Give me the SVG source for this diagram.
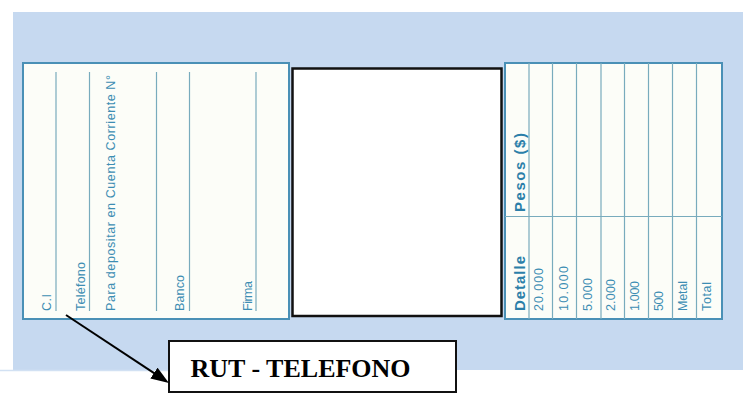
<svg xmlns="http://www.w3.org/2000/svg" width="743" height="408" viewBox="0 0 743 408">
  <defs>
    <marker id="arrowhead" viewBox="0 0 18 13" refX="2" refY="6.5" markerWidth="18" markerHeight="13" markerUnits="userSpaceOnUse" orient="auto">
      <path d="M0,0 L18,6.5 L0,13 z" fill="#000"/>
    </marker>
    <style>
      .panel { fill: #fcfdf8; stroke: #4a90b6; stroke-width: 2; }
      .rule { stroke: #78abbd; stroke-width: 1.2; fill: none; }
      .lbl { font-family: "Liberation Sans", "DejaVu Sans", sans-serif; font-size: 12.5px; fill: #3d8db3; }
      .num { font-family: "Liberation Sans", "DejaVu Sans", sans-serif; font-size: 12.5px; fill: #3d8db3; }
      .head { font-family: "Liberation Sans", "DejaVu Sans", sans-serif; font-size: 15px; font-weight: bold; fill: #2b7fa9; }
      .rut { font-family: "Liberation Serif", "Times New Roman", serif; font-size: 26px; font-weight: bold; fill: #000; }
    </style>
  </defs>

  <g id="background">
    <rect x="13" y="12" width="730" height="358" fill="#c6d9f0"/>
    <line x1="0" y1="370.5" x2="170" y2="370.5" stroke="#d2e1f3" stroke-width="1.5"/>
  </g>

  <g id="panel-left">
    <rect class="panel" x="23" y="63" width="266" height="256"/>
    <line class="rule" x1="56" y1="72" x2="56" y2="311"/>
    <line class="rule" x1="89.5" y1="72" x2="89.5" y2="311"/>
    <line class="rule" x1="156.5" y1="72" x2="156.5" y2="311"/>
    <line class="rule" x1="189.5" y1="72" x2="189.5" y2="311"/>
    <line class="rule" x1="256" y1="72" x2="256" y2="311"/>
    <text class="lbl" transform="translate(51,311) rotate(-90)" textLength="17" lengthAdjust="spacing">C.I</text>
    <text class="lbl" transform="translate(85,311) rotate(-90)" textLength="49" lengthAdjust="spacing">Teléfono</text>
    <text class="lbl" transform="translate(114.5,311) rotate(-90)" textLength="236" lengthAdjust="spacing">Para depositar en Cuenta Corriente N°</text>
    <text class="lbl" transform="translate(184,311) rotate(-90)" textLength="36" lengthAdjust="spacing">Banco</text>
    <text class="lbl" transform="translate(251.5,311) rotate(-90)" textLength="30" lengthAdjust="spacing">Firma</text>
  </g>

  <g id="panel-center">
    <rect x="292.5" y="68.5" width="209" height="247.5" fill="#fff" stroke="#111" stroke-width="2.5"/>
  </g>

  <g id="panel-right">
    <rect class="panel" x="505" y="63" width="217" height="256"/>
    <line class="rule" x1="529" y1="63" x2="529" y2="319"/>
    <line class="rule" x1="552.5" y1="63" x2="552.5" y2="319"/>
    <line class="rule" x1="576.5" y1="63" x2="576.5" y2="319"/>
    <line class="rule" x1="601" y1="63" x2="601" y2="319"/>
    <line class="rule" x1="624.5" y1="63" x2="624.5" y2="319"/>
    <line class="rule" x1="648.5" y1="63" x2="648.5" y2="319"/>
    <line class="rule" x1="672.5" y1="63" x2="672.5" y2="319"/>
    <line class="rule" x1="696.5" y1="63" x2="696.5" y2="319"/>
    <line class="rule" x1="505" y1="216.5" x2="722" y2="216.5"/>
    <text class="head" transform="translate(524.5,311) rotate(-90)" textLength="55" lengthAdjust="spacing">Detalle</text>
    <text class="head" transform="translate(524.5,212) rotate(-90)" textLength="79" lengthAdjust="spacing">Pesos ($)</text>
    <text class="num" transform="translate(543,311) rotate(-90)" textLength="43" lengthAdjust="spacing">20.000</text>
    <text class="num" transform="translate(567.5,311) rotate(-90)" textLength="45" lengthAdjust="spacing">10.000</text>
    <text class="num" transform="translate(591.5,311) rotate(-90)" textLength="33" lengthAdjust="spacing">5.000</text>
    <text class="num" transform="translate(615,311) rotate(-90)" textLength="32" lengthAdjust="spacing">2.000</text>
    <text class="num" transform="translate(638.5,311) rotate(-90)" textLength="30" lengthAdjust="spacing">1.000</text>
    <text class="num" transform="translate(662.5,311) rotate(-90)" textLength="20" lengthAdjust="spacing">500</text>
    <text class="num" transform="translate(686.5,311) rotate(-90)" textLength="30" lengthAdjust="spacing">Metal</text>
    <text class="num" transform="translate(710.5,311) rotate(-90)" textLength="29" lengthAdjust="spacing">Total</text>
  </g>

  <g id="label-rut">
    <rect x="169" y="341" width="287" height="51" fill="#fff" stroke="#111" stroke-width="2"/>
    <text class="rut" x="190.5" y="377">RUT - TELEFONO</text>
  </g>

  <g id="connectors">
    <line x1="66" y1="315" x2="155.6" y2="374.2" stroke="#000" stroke-width="2" marker-end="url(#arrowhead)"/>
  </g>
</svg>
